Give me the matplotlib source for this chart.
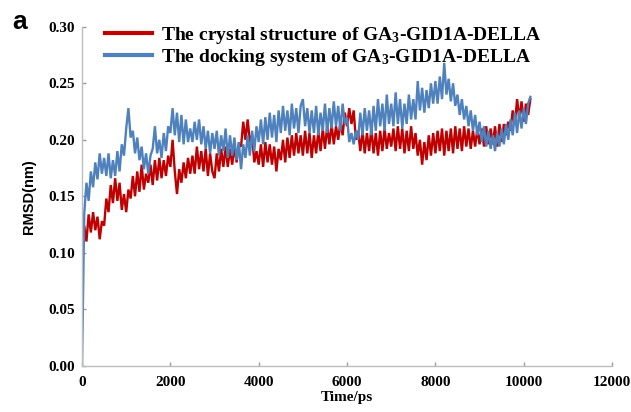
import numpy as np
import matplotlib
matplotlib.use("Agg")
import matplotlib.pyplot as plt

plt.rcParams['mathtext.fontset'] = 'custom'
plt.rcParams['mathtext.rm'] = 'Liberation Serif:bold'
plt.rcParams['mathtext.it'] = 'Liberation Serif:bold'
plt.rcParams['mathtext.bf'] = 'Liberation Serif:bold'

# RMSD traces, one value every 50 ps (0 .. 10150 ps)
time_ps = np.arange(0, 10200, 50)

rmsd_docking = [
    0.000, 0.135, 0.162, 0.146, 0.172, 0.158, 0.180, 0.165, 0.188, 0.170,
    0.184, 0.168, 0.188, 0.166, 0.182, 0.168, 0.190, 0.172, 0.196, 0.186,
    0.210, 0.228, 0.202, 0.208, 0.188, 0.202, 0.182, 0.194, 0.174, 0.188,
    0.170, 0.186, 0.192, 0.212, 0.188, 0.200, 0.184, 0.206, 0.190, 0.212,
    0.206, 0.228, 0.204, 0.224, 0.198, 0.222, 0.196, 0.218, 0.198, 0.210,
    0.198, 0.216, 0.200, 0.218, 0.196, 0.212, 0.192, 0.208, 0.188, 0.206,
    0.192, 0.208, 0.186, 0.204, 0.190, 0.210, 0.184, 0.204, 0.186, 0.202,
    0.182, 0.198, 0.174, 0.196, 0.184, 0.204, 0.186, 0.208, 0.190, 0.212,
    0.198, 0.218, 0.196, 0.220, 0.200, 0.224, 0.202, 0.222, 0.198, 0.226,
    0.206, 0.230, 0.208, 0.226, 0.204, 0.232, 0.210, 0.228, 0.206, 0.230,
    0.236, 0.212, 0.228, 0.206, 0.226, 0.206, 0.230, 0.204, 0.224, 0.208,
    0.232, 0.206, 0.228, 0.210, 0.234, 0.212, 0.230, 0.208, 0.232, 0.214,
    0.220, 0.198, 0.206, 0.196, 0.208, 0.200, 0.224, 0.204, 0.228, 0.208,
    0.226, 0.204, 0.230, 0.208, 0.236, 0.212, 0.232, 0.208, 0.240, 0.214,
    0.232, 0.212, 0.242, 0.214, 0.236, 0.210, 0.232, 0.214, 0.240, 0.218,
    0.236, 0.218, 0.252, 0.226, 0.246, 0.224, 0.244, 0.228, 0.250, 0.232,
    0.252, 0.232, 0.256, 0.236, 0.268, 0.240, 0.254, 0.234, 0.250, 0.230,
    0.240, 0.222, 0.236, 0.218, 0.230, 0.212, 0.226, 0.208, 0.222, 0.204,
    0.216, 0.198, 0.212, 0.194, 0.208, 0.192, 0.204, 0.190, 0.206, 0.194,
    0.210, 0.196, 0.214, 0.200, 0.218, 0.204, 0.224, 0.206, 0.226, 0.210,
    0.228, 0.214, 0.232, 0.238,
]

rmsd_crystal = [
    0.095, 0.124, 0.110, 0.134, 0.118, 0.136, 0.120, 0.132, 0.112, 0.128,
    0.124, 0.148, 0.136, 0.160, 0.144, 0.166, 0.146, 0.162, 0.138, 0.152,
    0.136, 0.156, 0.148, 0.168, 0.150, 0.172, 0.154, 0.178, 0.156, 0.170,
    0.162, 0.178, 0.160, 0.182, 0.164, 0.184, 0.166, 0.182, 0.168, 0.186,
    0.176, 0.200, 0.172, 0.152, 0.174, 0.162, 0.180, 0.166, 0.184, 0.170,
    0.186, 0.170, 0.194, 0.174, 0.190, 0.172, 0.192, 0.168, 0.188, 0.172,
    0.166, 0.188, 0.172, 0.192, 0.176, 0.194, 0.176, 0.192, 0.178, 0.194,
    0.180, 0.196, 0.194, 0.216, 0.200, 0.218, 0.198, 0.204, 0.180, 0.190,
    0.178, 0.196, 0.176, 0.198, 0.180, 0.196, 0.178, 0.194, 0.172, 0.192,
    0.182, 0.200, 0.180, 0.202, 0.184, 0.204, 0.186, 0.206, 0.188, 0.204,
    0.186, 0.208, 0.188, 0.206, 0.184, 0.204, 0.188, 0.208, 0.190, 0.210,
    0.192, 0.212, 0.196, 0.214, 0.196, 0.212, 0.200, 0.216, 0.204, 0.224,
    0.212, 0.228, 0.214, 0.226, 0.200, 0.208, 0.190, 0.208, 0.188, 0.206,
    0.190, 0.210, 0.188, 0.206, 0.186, 0.208, 0.190, 0.210, 0.192, 0.206,
    0.194, 0.210, 0.190, 0.212, 0.192, 0.210, 0.188, 0.208, 0.190, 0.212,
    0.192, 0.206, 0.186, 0.200, 0.178, 0.198, 0.182, 0.204, 0.186, 0.206,
    0.188, 0.208, 0.190, 0.210, 0.186, 0.208, 0.190, 0.210, 0.188, 0.212,
    0.192, 0.210, 0.190, 0.212, 0.194, 0.210, 0.192, 0.208, 0.194, 0.210,
    0.196, 0.210, 0.194, 0.212, 0.196, 0.210, 0.196, 0.212, 0.194, 0.214,
    0.198, 0.214, 0.204, 0.216, 0.208, 0.226, 0.214, 0.236, 0.218, 0.234,
    0.216, 0.232, 0.222, 0.236,
]

labels = [r'The crystal structure of GA$_{3}$-GID1A-DELLA',
          r'The docking system of GA$_{3}$-GID1A-DELLA']
colors = ['#c00000', '#4f81bd']

fig = plt.figure(figsize=(6.31, 4.12), dpi=100)
ax = fig.add_axes([0.130, 0.112, 0.840, 0.823])

ax.plot(time_ps, rmsd_crystal, color=colors[0], lw=1.7, label=labels[0],
        solid_joinstyle='miter')
ax.plot(time_ps, rmsd_docking, color=colors[1], lw=1.7, label=labels[1],
        solid_joinstyle='miter')

ax.set_xlim(0, 12000)
ax.set_ylim(0, 0.30)
ax.set_xticks(np.arange(0, 12001, 2000))
ax.set_yticks(np.arange(0, 0.301, 0.05))
ax.set_yticklabels(['%.2f' % v for v in np.arange(0, 0.301, 0.05)])

for s in ['top', 'right']:
    ax.spines[s].set_visible(False)
for s in ['left', 'bottom']:
    ax.spines[s].set_color('#bdbdbd')
    ax.spines[s].set_linewidth(1.0)

ax.tick_params(direction='in', length=3, color='#9a9a9a', width=1)
ax.tick_params(axis='x', pad=7)
ax.tick_params(axis='y', pad=5)
for lab in ax.get_xticklabels() + ax.get_yticklabels():
    lab.set_fontfamily('Liberation Serif')
    lab.set_fontweight('bold')
    lab.set_fontsize(11)

ax.set_xlabel('Time/ps', fontfamily='Liberation Serif', fontweight='bold',
              fontsize=11, labelpad=2)
ax.set_ylabel('RMSD(nm)', fontfamily='Liberation Sans', fontweight='bold',
              fontsize=10.5, labelpad=9)

leg = ax.legend(loc='upper left', bbox_to_anchor=(105 / 631, 387 / 412),
                bbox_transform=fig.transFigure, frameon=False,
                prop={'family': 'Liberation Serif', 'weight': 'bold', 'size': 14},
                handlelength=2.4, handletextpad=0.5, labelspacing=0.05,
                borderpad=0, borderaxespad=0)
for h in leg.legend_handles:
    h.set_linewidth(3)

fig.text(12 / 631, 1 - 29 / 412, 'a', fontfamily='Liberation Sans',
         fontweight='bold', fontsize=19)

fig.savefig('out.png', dpi=100)
